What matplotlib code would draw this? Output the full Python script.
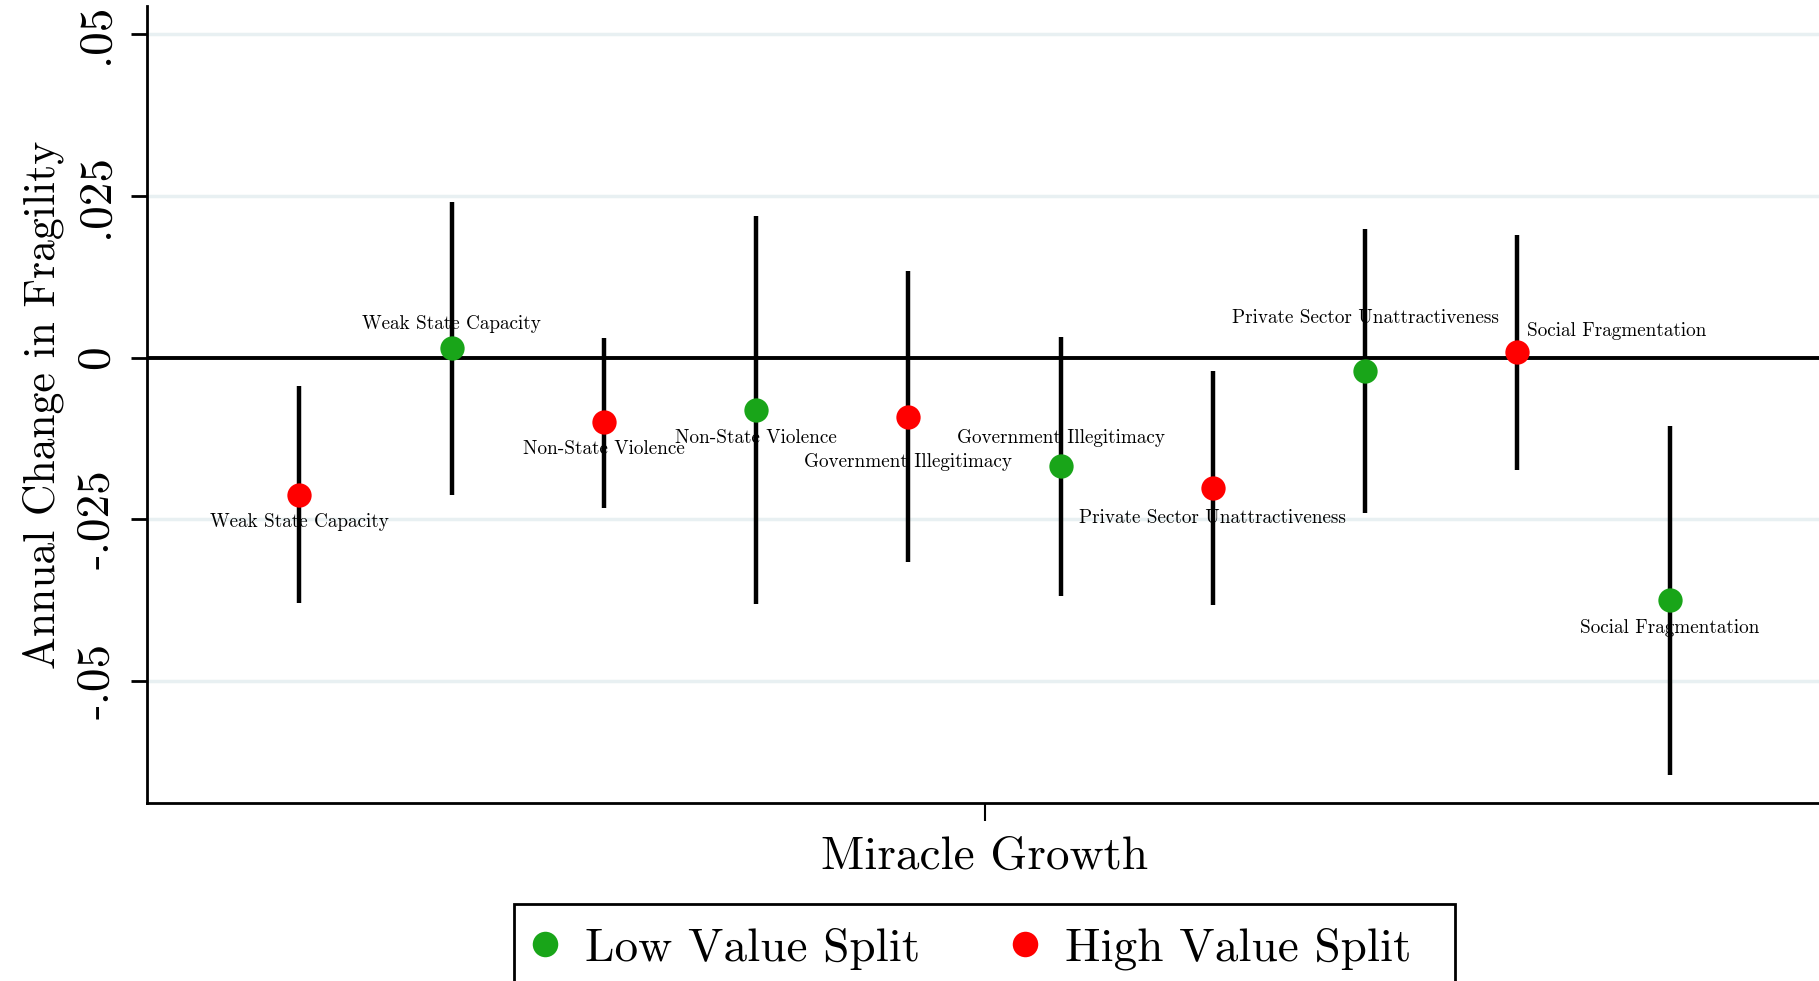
import matplotlib

matplotlib.use("Agg")
import matplotlib.pyplot as plt
from matplotlib.patches import Rectangle

# point order along the x axis: high/low split alternate for each dimension
labels = [
    "Weak State Capacity", "Weak State Capacity",
    "Non-State Violence", "Non-State Violence",
    "Government Illegitimacy", "Government Illegitimacy",
    "Private Sector Unattractiveness", "Private Sector Unattractiveness",
    "Social Fragmentation", "Social Fragmentation",
]
split = ["high", "low", "high", "low", "high", "low", "high", "low", "high", "low"]
estimates = [-0.0212, 0.0015, -0.0100, -0.0081, -0.0092, -0.0168, -0.0202, -0.0021, 0.0008, -0.0375]
ci_low = [-0.0379, -0.0212, -0.0232, -0.0380, -0.0316, -0.0369, -0.0382, -0.0240, -0.0174, -0.0644]
ci_high = [-0.0044, 0.0240, 0.0030, 0.0218, 0.0133, 0.0031, -0.0020, 0.0199, 0.0189, -0.0105]

ytick_values = [-0.05, -0.025, 0, 0.025, 0.05]
ytick_labels = ["-.05", "-.025", "0", ".025", ".05"]
group_label = "Miracle Growth"
legend_labels = {"low": "Low Value Split", "high": "High Value Split"}

colors = {"low": "#19a519", "high": "#ff0000"}
# marker label offsets in pixels (dx, dy, horizontal alignment)
label_offsets = [
    (0, -27, "center"), (0, 24, "center"),
    (0, -27, "center"), (0, -28, "center"),
    (0, -45, "center"), (0, 28, "center"),
    (0, -30, "center"), (0, 53, "center"),
    (10, 21, "left"), (0, -28, "center"),
]

plt.rcParams["font.family"] = ["cmr10", "DejaVu Serif"]
plt.rcParams["axes.unicode_minus"] = False
plt.rcParams["mathtext.fontset"] = "cm"

W, H = 1819, 981
fig = plt.figure(figsize=(W / 100, H / 100), dpi=100)
ax = fig.add_axes([147 / W, 1 - 803 / H, 1675 / W, (803 - 6) / H])

xs = list(range(1, len(estimates) + 1))
ax.set_xlim(0, len(estimates) + 1)
ax.set_ylim(-0.0688, 0.0543)

for v in ytick_values:
    if v != 0:
        ax.axhline(v, color="#e8f0f2", lw=2.5, zorder=0)
ax.axhline(0, color="black", lw=2.8, zorder=1)

for x, lo, hi in zip(xs, ci_low, ci_high):
    ax.vlines(x, lo, hi, color="black", lw=3.2, zorder=2)

for key in ["low", "high"]:
    px = [x for x, s in zip(xs, split) if s == key]
    py = [e for e, s in zip(estimates, split) if s == key]
    ax.plot(px, py, "o", ms=17.5, color=colors[key], mec="none", zorder=3, label=legend_labels[key])

for x, y, text, (dx, dy, ha) in zip(xs, estimates, labels, label_offsets):
    ax.annotate(text, (x, y), xytext=(dx, dy), textcoords="offset pixels",
                ha=ha, va="center", fontsize=13.8, zorder=4)

ax.set_yticks(ytick_values)
ax.set_yticklabels(ytick_labels, rotation=90, va="center", fontsize=34)
ax.tick_params(axis="y", length=11.5, width=2, pad=10)
ax.set_xticks([(len(estimates) + 1) / 2])
ax.set_xticklabels([group_label], fontsize=34)
ax.tick_params(axis="x", length=13, width=1.5, pad=11)
ax.set_ylabel("Annual Change in Fragility", fontsize=31.5, labelpad=8)

for side in ["top", "right"]:
    ax.spines[side].set_visible(False)
for side in ["left", "bottom"]:
    ax.spines[side].set_linewidth(2)

# legend box runs off the bottom of the picture
fig.patches.append(Rectangle((514 / W, -0.05), (1455 - 514) / W, 0.05 + 1 - 904 / H,
                             transform=fig.transFigure, fill=False, ec="black", lw=2))
ax.legend(loc="upper left", bbox_to_anchor=(508 / W, 1 - 904 / H), bbox_transform=fig.transFigure,
          ncol=2, fontsize=34, frameon=False, borderaxespad=0, borderpad=0.5,
          handlelength=0.55, handletextpad=0.57, columnspacing=1.95, markerscale=1.05)

fig.savefig("out.png", dpi=100)
